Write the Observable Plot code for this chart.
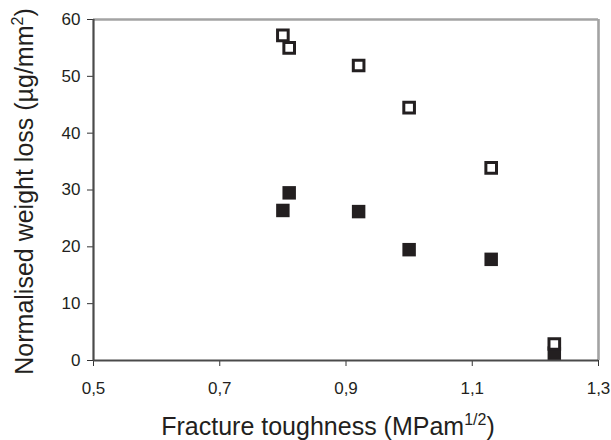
<!DOCTYPE html>
<html><head><meta charset="utf-8">
<script src="https://cdn.jsdelivr.net/npm/d3@7"></script>
<script src="https://cdn.jsdelivr.net/npm/@observablehq/plot@0.6"></script>
<style>
body{margin:0;background:#fff}
#chart svg{display:block}
</style>
</head><body><div id="chart"></div>
<script>
// Data
const toughness = [0.80, 0.81, 0.92, 1.00, 1.13, 1.23];
const lossOpen = [57.2, 55.0, 51.9, 44.5, 33.9, 2.9];
const lossFilled = [26.4, 29.5, 26.2, 19.5, 17.8, 1.3];
const xTicks = [0.5, 0.7, 0.9, 1.1, 1.3];
const yTicks = [0, 10, 20, 30, 40, 50, 60];
const xTitle = ["Fracture toughness (MPam", "1/2", ")"];
const yTitle = ["Normalised weight loss (\u00B5g/mm", "2", ")"];

const openPts = toughness.map((x, i) => ({x, y: lossOpen[i]}));
const filledPts = toughness.map((x, i) => ({x, y: lossFilled[i]}));

const ink = "#231f20";
const fmt = d => d3.format(".1f")(d).replace(".", ",");

const W = 611, H = 440;
const mL = 93, mR = 13, mT = 19, mB = 80;

const chart = Plot.plot({
  width: W, height: H,
  marginLeft: mL, marginRight: mR, marginTop: mT, marginBottom: mB,
  style: {fontFamily: "'Liberation Sans', Arial, sans-serif", background: "#fff", color: ink},
  x: {domain: [0.5, 1.3]},
  y: {domain: [0, 60]},
  marks: [
    // frame: grey top/right
    Plot.ruleY([60], {stroke: "#a3a3a3", strokeWidth: 2.4}),
    Plot.ruleX([1.3], {stroke: "#a3a3a3", strokeWidth: 2.6}),
    // axes
    Plot.axisX({ticks: xTicks, tickFormat: fmt, tickSize: 6, insetTop: -6, tickPadding: 15,
      fontSize: 17, stroke: "#333", label: null}),
    Plot.axisY({ticks: yTicks, tickSize: 6, insetRight: -5, tickPadding: 7,
      fontSize: 17, stroke: "#333", label: null}),
    Plot.ruleX([0.5], {stroke: "#4a4a4a", strokeWidth: 2.2}),
    Plot.ruleY([0], {stroke: "#4a4a4a", strokeWidth: 2.2}),
    // data
    Plot.dot(filledPts, {x: "x", y: "y", symbol: "square", r: 7.6, fill: ink, stroke: "none"}),
    Plot.dot(openPts, {x: "x", y: "y", symbol: "square", r: 6.0, fill: "#fff", stroke: ink, strokeWidth: 3})
  ]
});

document.getElementById("chart").appendChild(chart);

// axis titles with superscripts (real SVG text)
const svg = d3.select(chart);
const tf = "'Liberation Sans', Arial, sans-serif";
const xt = svg.append("text")
  .attr("x", 328).attr("y", 435)
  .attr("text-anchor", "middle")
  .attr("font-family", tf).attr("font-size", 25).attr("fill", ink);
xt.append("tspan").text(xTitle[0]);
xt.append("tspan").attr("dy", -10).attr("font-size", 16).text(xTitle[1]);
xt.append("tspan").attr("dy", 10).text(xTitle[2]);

const yt = svg.append("text")
  .attr("transform", `translate(33, ${(mT + (H - mB)) / 2 + 2}) rotate(-90)`)
  .attr("text-anchor", "middle")
  .attr("font-family", tf).attr("font-size", 25).attr("fill", ink);
yt.append("tspan").text(yTitle[0]);
yt.append("tspan").attr("dy", -10).attr("font-size", 16).text(yTitle[1]);
yt.append("tspan").attr("dy", 10).text(yTitle[2]);
</script>
</body></html>
